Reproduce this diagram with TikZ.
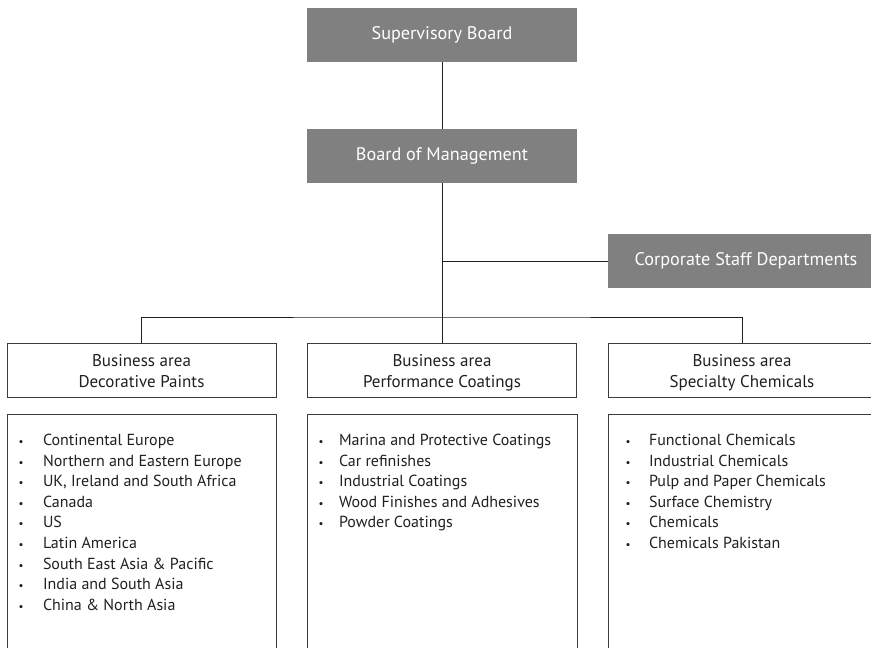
\documentclass[tikz,border=0pt]{standalone}
\usepackage{fontspec}
\setmainfont{PT Sans}
\definecolor{boxgray}{RGB}{128,128,128}
\definecolor{ink}{RGB}{35,31,32}
\definecolor{edge}{RGB}{60,60,60}
\begin{document}
\begin{tikzpicture}[x=1pt,y=-1pt,
  every node/.style={inner sep=0pt, outer sep=0pt},
  graybox/.style={fill=boxgray, minimum width=270pt, minimum height=54pt,
    text=white, font=\fontsize{18.2}{21}\selectfont},
  areabox/.style={draw=edge, line width=0.9pt, fill=white, minimum width=269pt,
    minimum height=54pt},
  areatext/.style={align=center, text=ink, font=\fontsize{17}{21}\selectfont},
  listbox/.style={draw=edge, line width=0.9pt},
  item/.style={anchor=base west, text=ink, font=\fontsize{16}{19}\selectfont},
  bul/.style={anchor=base, text=ink, font=\fontsize{11}{11}\selectfont},
  conn/.style={draw=ink, line width=0.9pt}]
\clip (0,0) rectangle (871,648);
\fill[white] (0,0) rectangle (871,648);

% management boxes
\node[graybox] (sup) at (442,34.5) {Supervisory Board};
\node[graybox] (bom) at (442,156) {Board of Management};
\node[graybox, minimum width=276pt] (csd) at (746,261) {Corporate Staff Departments};

% business area frames and their two-line titles
\node[areabox] (ba1) at (141.5,370) {};
\node[areabox] (ba2) at (442,370) {};
\node[areabox, minimum width=268pt] (ba3) at (742,370) {};
\node[areatext] (ba1t) at ([yshift=-3pt]ba1.center) {\strut Business area\\\strut Decorative Paints};
\node[areatext] (ba2t) at ([yshift=-3pt]ba2.center) {\strut Business area\\\strut Performance Coatings};
\node[areatext] (ba3t) at ([yshift=-3pt]ba3.center) {\strut Business area\\\strut Specialty Chemicals};

% list frames
\draw[listbox] (7,660) |- (276,414) -- (276,660);
\draw[listbox] (307,660) |- (577,414) -- (577,660);
\draw[listbox] (608,660) |- (880,414);

% connectors
\coordinate (busmid) at (442,317);
\draw[conn] (sup) -- (bom);
\draw[conn] (bom.south) -- (busmid);
\draw[conn] (csd.west) -- (csd.west -| bom.south);
\draw[conn] (ba1.north) |- (busmid) -| (ba3.north);
\draw[conn] (busmid) -- (ba2.north);

% item lists
\foreach [count=\i] \t in {Continental Europe, Northern and Eastern Europe,
    {UK, Ireland and South Africa}, Canada, US, Latin America,
    South East Asia \& Pacific, India and South Asia, China \& North Asia} {
  \node[bul] (dpb\i) at (21,{445.5+20.6*(\i-1)}) {•};
  \node[item] (dp\i) at (43,{445.5+20.6*(\i-1)}) {\t};
}
\foreach [count=\i] \t in {Marina and Protective Coatings, Car refinishes,
    Industrial Coatings, Wood Finishes and Adhesives, Powder Coatings} {
  \node[bul] (pcb\i) at (321,{445.5+20.6*(\i-1)}) {•};
  \node[item] (pc\i) at (339,{445.5+20.6*(\i-1)}) {\t};
}
\foreach [count=\i] \t in {Functional Chemicals, Industrial Chemicals,
    Pulp and Paper Chemicals, Surface Chemistry, Chemicals, Chemicals Pakistan} {
  \node[bul] (scb\i) at (628,{445.5+20.6*(\i-1)}) {•};
  \node[item] (sc\i) at (649,{445.5+20.6*(\i-1)}) {\t};
}
\end{tikzpicture}
\end{document}
